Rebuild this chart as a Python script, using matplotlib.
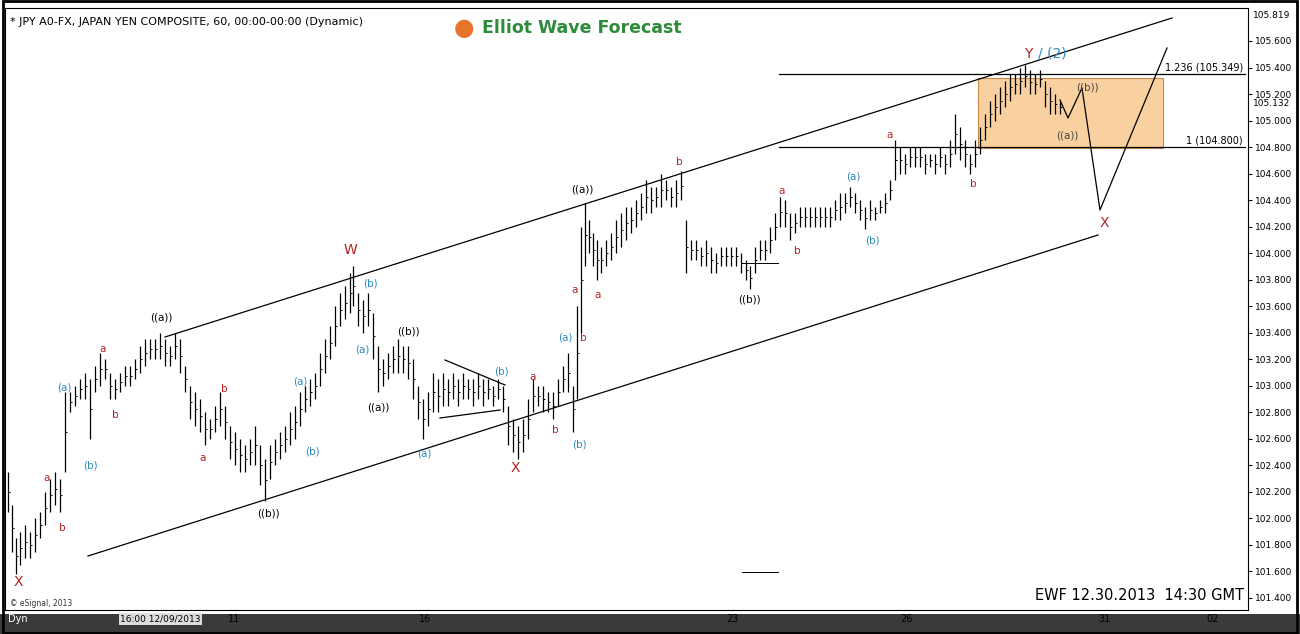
import matplotlib
matplotlib.use("Agg")
import matplotlib.pyplot as plt
from matplotlib.patches import Rectangle

bar_time = [8,12,16,20,25,30,35,40,45,50,55,60,65,70,75,80,85,90,95,100,105,110,115,120,125,130,135,140,145,150,155,160,165,170,175,180,185,190,195,200,205,210,215,220,225,230,235,240,245,250,255,260,265,270,275,280,285,290,295,300,305,310,315,320,325,330,335,340,345,350,353,358,363,368,373,378,383,388,393,398,403,408,413,418,423,428,433,438,443,448,453,458,463,468,473,478,483,488,493,498,503,508,513,518,523,528,533,538,543,548,553,558,563,568,573,577,581,585,589,593,597,601,606,611,616,621,626,631,636,641,646,651,656,661,666,671,676,681,686,691,696,701,706,711,716,721,726,731,736,741,746,750,755,760,765,770,775,780,785,790,795,800,805,810,815,820,825,830,835,840,845,850,855,860,865,870,875,880,885,890,895,900,905,910,915,920,925,930,935,940,945,950,955,960,965,970,975,980,985,990,995,1000,1005,1010,1015,1020,1025,1030,1035,1040,1045,1050,1055,1060]
bar_high = [102.35,102.1,101.85,101.9,101.95,101.9,102.0,102.05,102.2,102.3,102.35,102.3,102.95,102.95,103.0,103.05,103.1,103.05,103.15,103.25,103.2,103.1,103.05,103.1,103.15,103.15,103.2,103.3,103.35,103.35,103.35,103.4,103.35,103.3,103.4,103.35,103.15,103.0,102.95,102.9,102.8,102.75,102.85,102.95,102.85,102.7,102.65,102.6,102.55,102.6,102.7,102.55,102.45,102.55,102.6,102.65,102.7,102.8,102.85,102.95,103.0,103.05,103.1,103.25,103.35,103.45,103.6,103.7,103.75,103.85,103.9,103.7,103.65,103.7,103.55,103.3,103.2,103.25,103.3,103.35,103.3,103.3,103.2,103.0,102.9,102.95,103.1,103.05,103.1,103.05,103.1,103.05,103.1,103.05,103.05,103.1,103.05,103.05,103.0,103.05,103.0,102.85,102.75,102.7,102.75,102.9,103.05,103.0,103.0,102.95,102.95,103.05,103.15,103.25,103.0,103.6,104.2,104.38,104.25,104.15,104.1,104.05,104.1,104.15,104.25,104.3,104.35,104.35,104.4,104.45,104.55,104.5,104.5,104.6,104.55,104.5,104.55,104.62,104.25,104.1,104.1,104.05,104.1,104.05,104.0,104.05,104.05,104.05,104.05,104.0,103.95,103.9,104.05,104.1,104.1,104.2,104.3,104.42,104.4,104.3,104.3,104.35,104.35,104.35,104.35,104.35,104.35,104.35,104.4,104.45,104.45,104.5,104.45,104.4,104.35,104.4,104.35,104.4,104.45,104.55,104.85,104.8,104.75,104.8,104.8,104.8,104.75,104.75,104.75,104.8,104.75,104.85,105.05,104.95,104.85,104.75,104.85,104.95,105.05,105.15,105.2,105.25,105.3,105.35,105.35,105.4,105.42,105.38,105.35,105.38,105.3,105.25,105.2,105.15]
bar_low = [102.05,101.75,101.58,101.65,101.7,101.7,101.75,101.85,101.95,102.05,102.1,102.05,102.35,102.8,102.85,102.9,102.9,102.6,102.95,103.0,103.05,102.9,102.9,102.95,103.0,103.0,103.05,103.1,103.15,103.2,103.2,103.2,103.15,103.15,103.2,103.1,102.95,102.75,102.7,102.65,102.55,102.6,102.65,102.7,102.6,102.45,102.4,102.35,102.35,102.4,102.4,102.25,102.13,102.3,102.4,102.45,102.5,102.55,102.6,102.7,102.8,102.85,102.9,103.0,103.1,103.2,103.3,103.45,103.5,103.55,103.6,103.45,103.4,103.45,103.2,102.95,103.0,103.05,103.1,103.1,103.1,103.05,102.9,102.75,102.6,102.7,102.8,102.8,102.85,102.85,102.9,102.85,102.9,102.9,102.85,102.9,102.85,102.9,102.85,102.9,102.8,102.55,102.5,102.45,102.5,102.6,102.8,102.85,102.8,102.8,102.75,102.85,102.95,102.95,102.65,102.9,103.4,103.9,104.0,103.9,103.8,103.85,103.9,103.95,104.0,104.05,104.1,104.15,104.2,104.25,104.3,104.3,104.35,104.35,104.4,104.35,104.35,104.4,103.85,103.95,103.95,103.9,103.9,103.85,103.85,103.9,103.9,103.9,103.9,103.85,103.8,103.73,103.85,103.95,103.95,104.0,104.1,104.2,104.2,104.1,104.15,104.2,104.2,104.2,104.2,104.2,104.2,104.2,104.25,104.25,104.3,104.35,104.3,104.25,104.18,104.25,104.25,104.3,104.3,104.4,104.55,104.6,104.6,104.65,104.65,104.65,104.6,104.65,104.6,104.65,104.6,104.65,104.75,104.7,104.65,104.6,104.65,104.75,104.85,104.95,105.0,105.05,105.1,105.15,105.2,105.2,105.25,105.2,105.2,105.25,105.1,105.05,105.05,105.05]
date_ticks = [234, 425, 732, 906, 1104, 1213]
date_labels = ["11", "16", "23", "26", "31", "02"]
fib_levels = [105.349, 104.800]
fib_labels = ["1.236 (105.349)", "1 (104.800)"]
last_price = 105.132

W, H = 1300, 634
fig = plt.figure(figsize=(13, 6.34), dpi=100, facecolor="white")
ax = fig.add_axes([5/W, 1-610/H, (1248-5)/W, (610-8)/H])
def py(y):
    return 105.6 - (y - 41) / 132.6
ax.set_xlim(5, 1248)
ax.set_ylim(py(610), py(8))

ax.vlines(bar_time, bar_low, bar_high, color="black", lw=0.9, zorder=2)
closes = [(h + l) / 2 for h, l in zip(bar_high, bar_low)]
ax.hlines(closes, bar_time, [t + 2 for t in bar_time], color="black", lw=0.7, zorder=2)

lk = dict(color="black", lw=0.9)
ax.plot([165, 1172], [py(337), py(18)], **lk)
ax.plot([88, 1098], [py(556), py(235)], **lk)
ax.plot([445, 505], [py(360), py(385)], **lk)
ax.plot([440, 500], [py(418), py(410)], **lk)
ax.plot([743, 778], [py(263), py(263)], color="black", lw=0.7)
ax.plot([742, 778], [py(572), py(572)], color="black", lw=0.7)
for lv, lab in zip(fib_levels, fib_labels):
    ax.plot([779, 1245], [lv, lv], color="black", lw=0.9)
    ax.text(1243, lv + 0.01, lab, ha="right", va="bottom", fontsize=7)
ax.add_patch(Rectangle((978, 104.79), 185, 105.32 - 104.79, facecolor="#f9c88e",
                       edgecolor="#c07a30", lw=0.8, alpha=0.85, zorder=0.5))
ax.plot([1060, 1068, 1082, 1100, 1167], [py(100), py(118), py(88), py(210), py(48)], color="black", lw=0.9)

red, blue = "#b22222", "#2e8bc0"
small = [("a",47,478,red),("b",62,528,red),("a",103,349,red),("b",115,415,red),("b",224,389,red),
         ("a",203,458,red),("a",533,377,red),("b",555,430,red),("a",575,290,red),("b",583,338,red),
         ("a",598,295,red),("b",679,162,red),("a",782,191,red),("b",797,251,red),("a",890,135,red),
         ("b",973,184,red),
         ("(a)",64,387,blue),("(b)",90,466,blue),("(a)",300,382,blue),("(b)",312,451,blue),
         ("(a)",362,349,blue),("(b)",370,284,blue),("(a)",424,453,blue),("(b)",501,371,blue),
         ("(a)",565,337,blue),("(b)",579,444,blue),("(a)",853,177,blue),("(b)",872,241,blue),
         ("((a))",161,318,"black"),("((b))",268,514,"black"),("((b))",408,331,"black"),
         ("((a))",378,408,"black"),("((a))",582,190,"black"),("((b))",749,299,"black"),
         ("((b))",1087,87,"#444444"),("((a))",1067,135,"#444444")]
for t, x, y, c in small:
    ax.text(x, py(y), t, color=c, fontsize=7.5, ha="center", va="center")
for t, x, y in [("W",350,250),("X",18,582),("X",515,468),("X",1104,223),("Y",1028,54)]:
    ax.text(x, py(y), t, color=red, fontsize=10, ha="center", va="center")
ax.text(1052, py(54), "/ (2)", color=blue, fontsize=10, ha="center", va="center")

ax.yaxis.tick_right()
ticks = [101.4 + 0.2 * i for i in range(22)]
ax.set_yticks(ticks)
ax.set_yticklabels([f"{t:.3f}" for t in ticks], fontsize=6.5)
ax.tick_params(axis="y", length=3, pad=2)
ax.set_xticks(date_ticks)
ax.set_xticklabels(date_labels, fontsize=7)
ax.tick_params(axis="x", length=0, pad=3)
ax.text(1253, last_price, f"{last_price:.3f}", fontsize=6.5, va="center", clip_on=False)
ax.text(1253, py(16), "105.819", fontsize=6.5, va="center", clip_on=False)

fig.text(10/W, 1-22/H, "* JPY A0-FX, JAPAN YEN COMPOSITE, 60, 00:00-00:00 (Dynamic)", fontsize=8, va="center")
fig.text(464/W, 1-28/H, "●", color="#e8732a", fontsize=17, ha="center", va="center")
fig.text(482/W, 1-28/H, "Elliot Wave Forecast", color="#2e8b3a", fontsize=12.5, fontweight="bold", va="center")
fig.text(1244/W, 1-596/H, "EWF 12.30.2013  14:30 GMT", fontsize=10.5, va="center", ha="right")
fig.text(10/W, 1-603/H, "© eSignal, 2013", fontsize=5.5, va="center", color="#333333")
fig.patches.append(Rectangle((0, 0), 1, 20/H, transform=fig.transFigure, facecolor="#3a3a3a", zorder=-1))
fig.text(8/W, 1-619/H, "Dyn", fontsize=7, color="white", va="center")
fig.text(120/W, 1-619/H, "16:00 12/09/2013", fontsize=6.5, color="black", va="center",
         bbox=dict(facecolor="#dddddd", edgecolor="none", pad=1))
fig.patches.append(Rectangle((0.002, 0.002), 0.996, 0.996, transform=fig.transFigure,
                             fill=False, edgecolor="black", lw=2))
fig.savefig("out.png", dpi=100, facecolor="white")
